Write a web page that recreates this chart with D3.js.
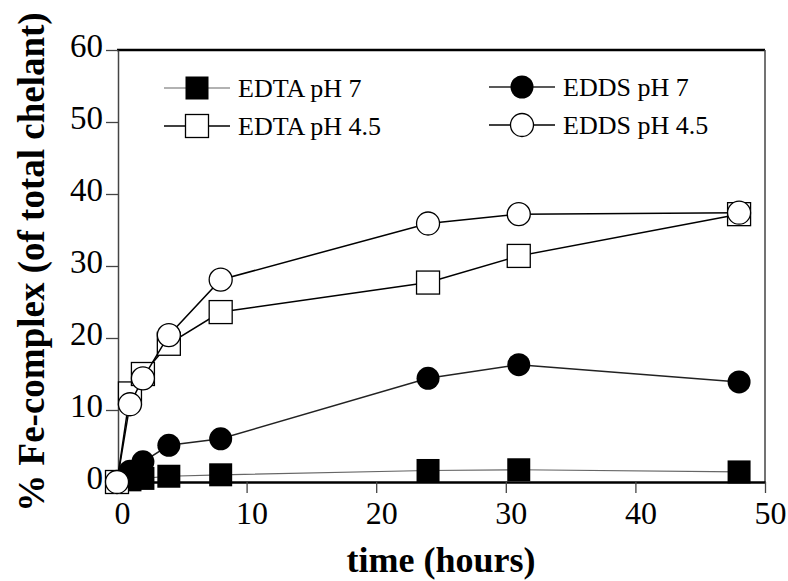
<!DOCTYPE html>
<html><head><meta charset="utf-8">
<script src="https://cdn.jsdelivr.net/npm/d3@7"></script>
<style>body{margin:0;background:#fff}svg{display:block}text{font-family:"Liberation Serif","Times New Roman",serif;fill:#000}</style>
</head><body><svg id="c" width="788" height="581"></svg>
<script>
const hours = [0, 1, 2, 4, 8, 24, 31, 48];
const edtaPH7  = [0, 0.3, 0.5, 0.8, 1.0, 1.6, 1.7, 1.4];
const edtaPH45 = [0, 12.3, 15.0, 19.2, 23.6, 27.7, 31.4, 37.2];
const eddsPH7  = [0, 1.5, 2.8, 5.1, 6.0, 14.4, 16.3, 13.9];
const eddsPH45 = [0, 10.8, 14.4, 20.4, 28.1, 35.9, 37.2, 37.4];
const seriesNames = ["EDTA pH 7", "EDTA pH 4.5", "EDDS pH 7", "EDDS pH 4.5"];
const xTicks = [0, 10, 20, 30, 40, 50];
const yTicks = [0, 10, 20, 30, 40, 50, 60];

const series = [
  {name: seriesNames[0], vals: edtaPH7,  shape: "square", fill: "#000", line: "#666", lw: 1.2},
  {name: seriesNames[1], vals: edtaPH45, shape: "square", fill: "#fff", line: "#000", lw: 1.5},
  {name: seriesNames[2], vals: eddsPH7,  shape: "circle", fill: "#000", line: "#222", lw: 1.5},
  {name: seriesNames[3], vals: eddsPH45, shape: "circle", fill: "#fff", line: "#000", lw: 1.5}
];

const svg = d3.select("#c");
const x = d3.scaleLinear().domain([0, 50]).range([117, 765]);
const y = d3.scaleLinear().domain([0, 60]).range([482, 50]);

// frame
svg.append("line").attr("x1", x(0)).attr("x2", x(50)).attr("y1", y(60)).attr("y2", y(60)).attr("stroke", "#000").attr("stroke-width", 2.5);
svg.append("line").attr("x1", x(50)).attr("x2", x(50)).attr("y1", y(60)).attr("y2", y(0)).attr("stroke", "#444").attr("stroke-width", 1.5);

// axes
const gx = svg.append("g").attr("transform", `translate(0,${y(0)})`)
  .call(d3.axisBottom(x).tickValues(xTicks).tickSize(11).tickPadding(8).tickSizeOuter(0));
gx.select(".domain").attr("stroke", "#000").attr("stroke-width", 2.5);
gx.selectAll(".tick line").attr("stroke", "#444").attr("stroke-width", 1.3);
gx.selectAll(".tick text").attr("font-size", 32).attr("dx", 5).style("font-family", '"Liberation Serif",serif');

const gy = svg.append("g").attr("transform", `translate(${x(0) + 1},0)`)
  .call(d3.axisLeft(y).tickValues(yTicks).tickSize(12).tickPadding(3).tickSizeOuter(0));
gy.select(".domain").attr("stroke", "#444").attr("stroke-width", 1.5);
gy.selectAll(".tick line").attr("stroke", "#444").attr("stroke-width", 1.3);
gy.selectAll(".tick text").attr("font-size", 33).attr("dy", "0.2em").style("font-family", '"Liberation Serif",serif');

// lines & markers
const line = d3.line().x((d, i) => x(hours[i])).y(d => y(d));
const R = 11.5;
function marker(g, s, cx, cy) {
  if (s.shape === "square") {
    g.append("rect").attr("x", cx - R).attr("y", cy - R).attr("width", 2 * R).attr("height", 2 * R)
      .attr("fill", s.fill).attr("stroke", s.fill === "#000" ? "none" : "#000").attr("stroke-width", 1.3);
  } else {
    g.append("circle").attr("cx", cx).attr("cy", cy).attr("r", R)
      .attr("fill", s.fill).attr("stroke", s.fill === "#000" ? "none" : "#000").attr("stroke-width", 1.3);
  }
}
series.forEach(s => {
  const g = svg.append("g");
  g.append("path").attr("d", line(s.vals)).attr("fill", "none").attr("stroke", s.line).attr("stroke-width", s.lw);
  s.vals.forEach((v, i) => marker(g, s, x(hours[i]), y(v)));
});

// legend
const legPos = [[197, 88], [197, 126], [522, 87], [522, 125]];
series.forEach((s, i) => {
  const [cx, cy] = legPos[i];
  const g = svg.append("g");
  g.append("line").attr("x1", cx - 33).attr("x2", cx + 33).attr("y1", cy).attr("y2", cy).attr("stroke", s.line).attr("stroke-width", s.lw);
  marker(g, s, cx, cy);
  g.append("text").attr("x", cx + 41).attr("y", cy + 9).attr("font-size", 26).text(s.name);
});

// titles
svg.append("text").attr("x", 441).attr("y", 572).attr("text-anchor", "middle")
  .attr("font-size", 36).attr("font-weight", "bold").text("time (hours)");
svg.append("text").attr("transform", "translate(44,262) rotate(-90)").attr("text-anchor", "middle")
  .attr("font-size", 37).attr("font-weight", "bold").text("% Fe-complex (of total chelant)");
</script></body></html>
